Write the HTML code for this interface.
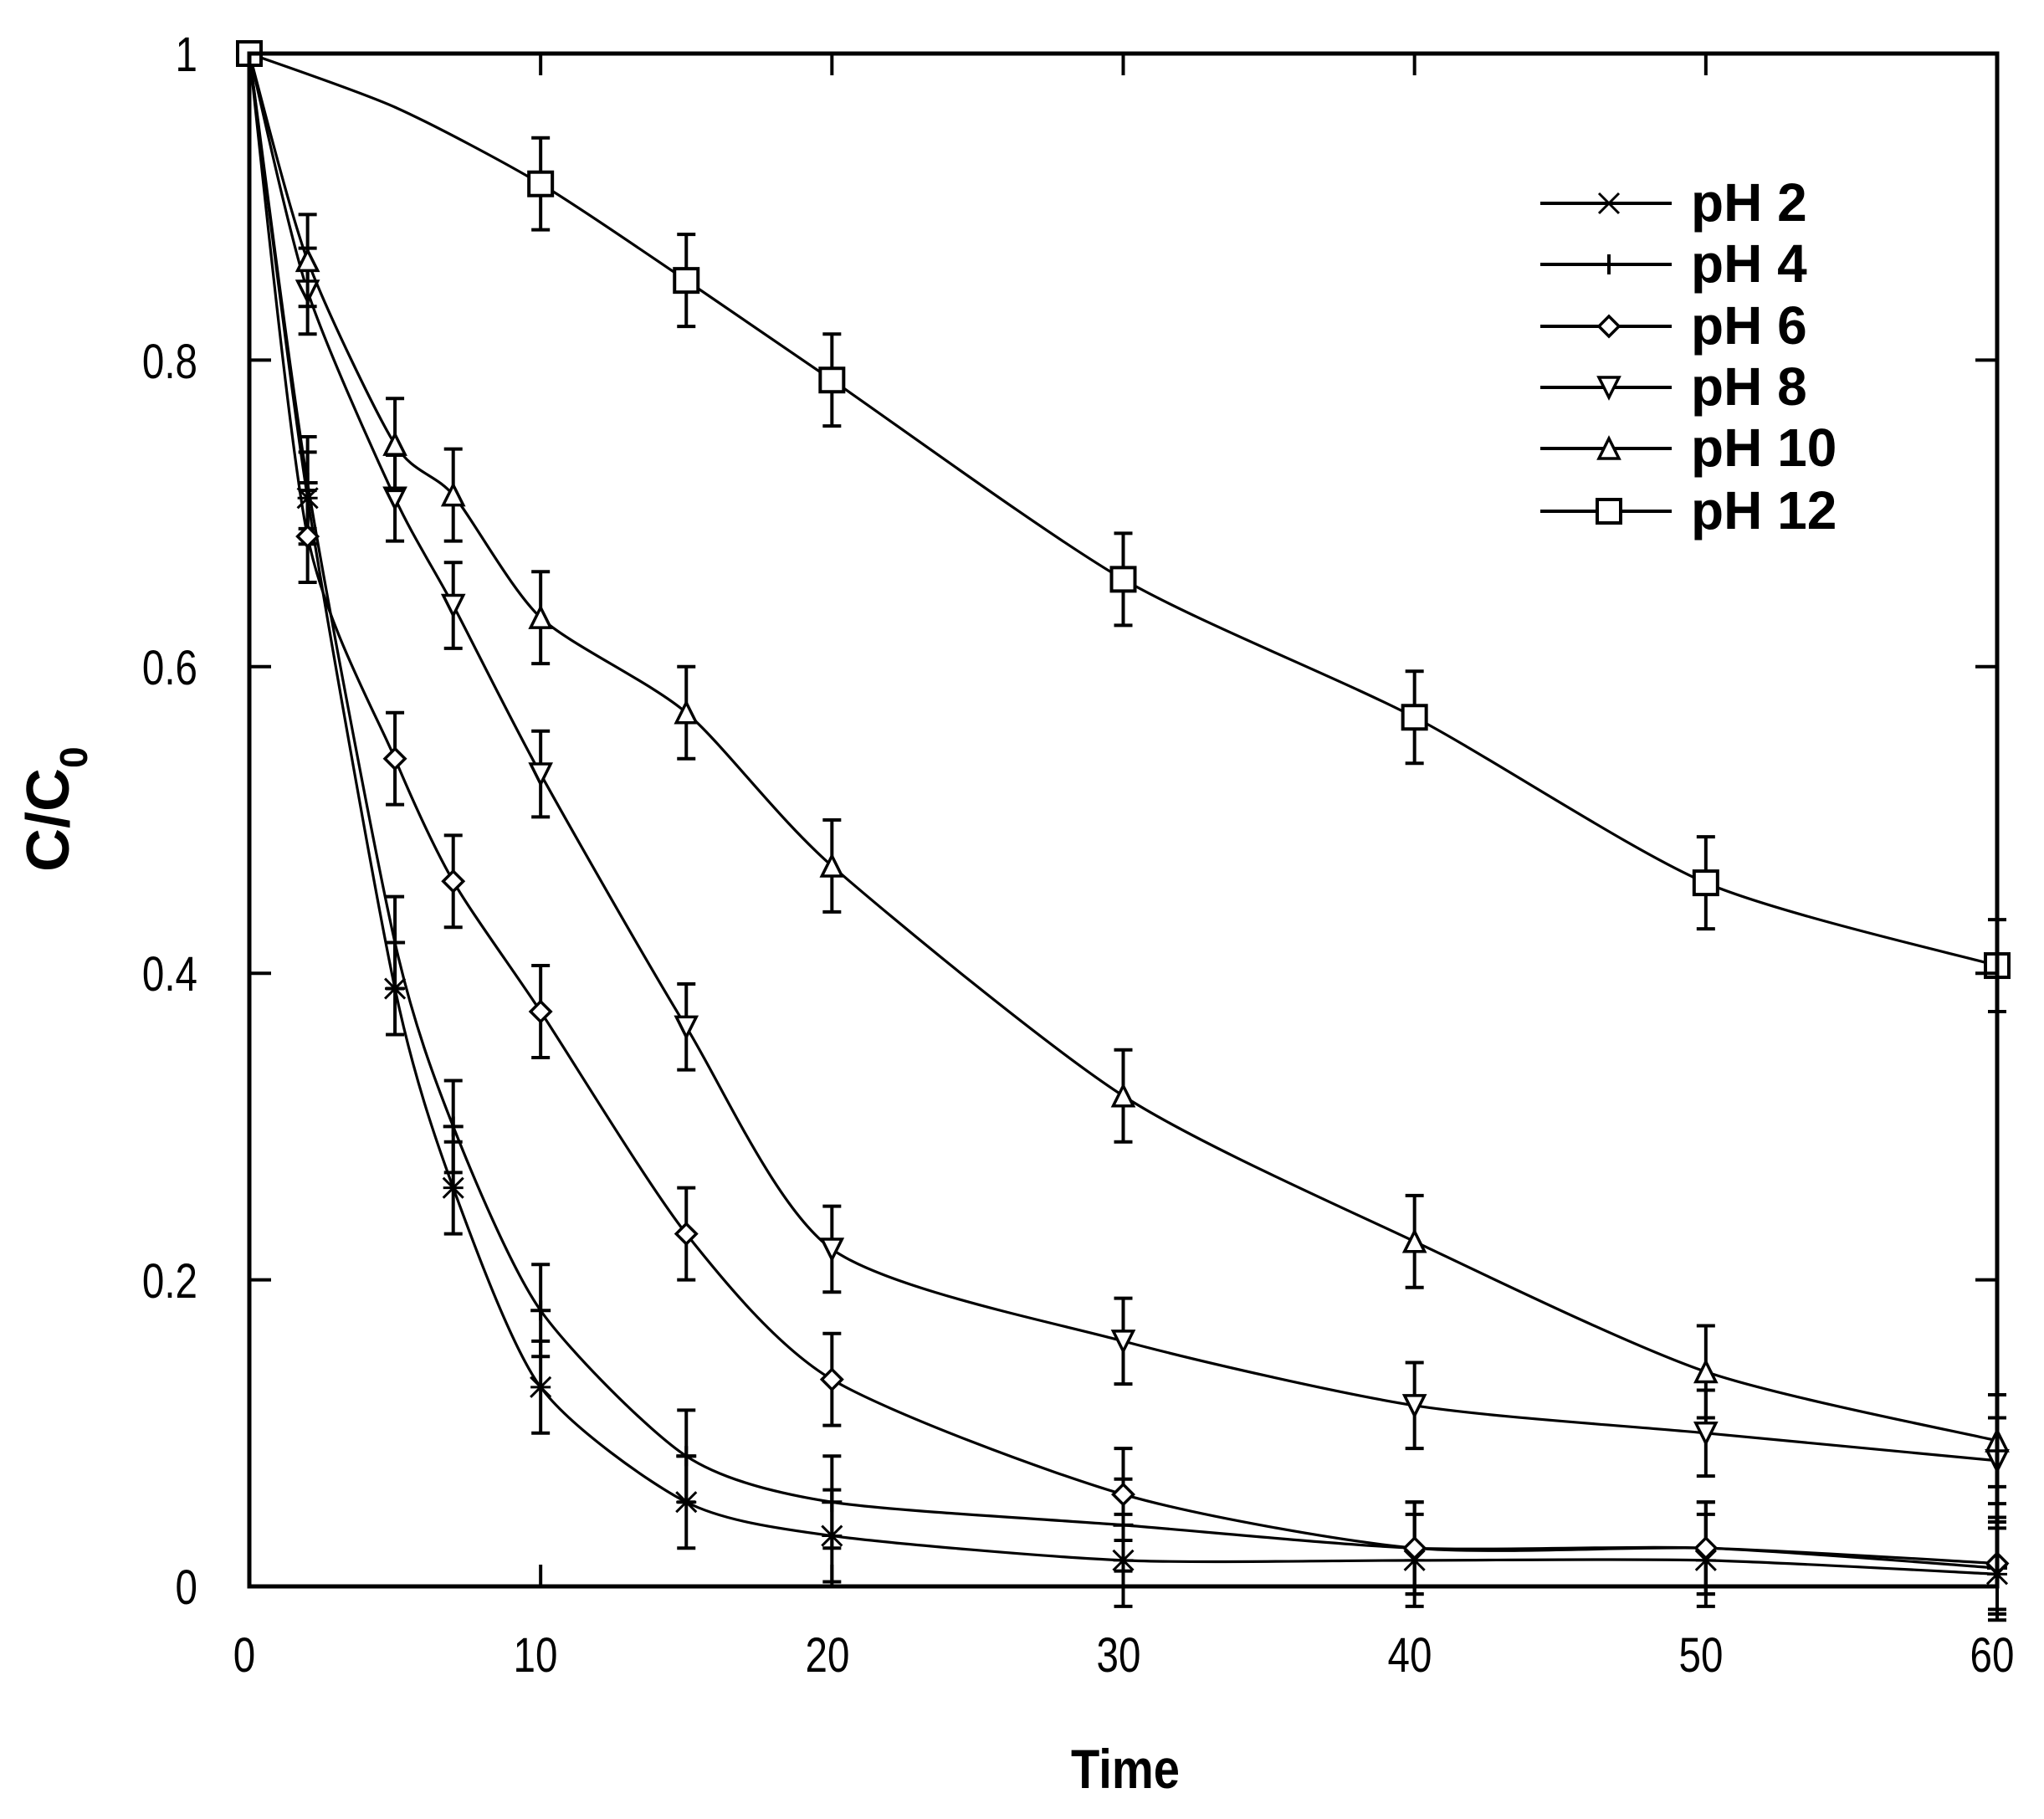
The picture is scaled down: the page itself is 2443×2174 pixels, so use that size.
<!DOCTYPE html>
<html><head><meta charset="utf-8"><style>
html,body{margin:0;padding:0;background:#fff}
svg{display:block}
text{font-family:"Liberation Sans",Arial,sans-serif;fill:#000}
</style></head><body>
<svg id="s" width="2443" height="2174" viewBox="0 0 2443 2174" xmlns="http://www.w3.org/2000/svg">
<rect width="2443" height="2174" fill="#fff"/>
<g id="plot"></g>
<rect x="298" y="64" width="2089" height="1832" fill="none" stroke="#000" stroke-width="5"/>
<g id="ticks" stroke="#000" stroke-width="4"></g>
<g font-size="58" text-anchor="end">
<text x="236" y="1917" transform="translate(236 0) scale(0.82 1) translate(-236 0)">0</text>
<text x="236" y="1551" transform="translate(236 0) scale(0.82 1) translate(-236 0)">0.2</text>
<text x="236" y="1184" transform="translate(236 0) scale(0.82 1) translate(-236 0)">0.4</text>
<text x="236" y="818" transform="translate(236 0) scale(0.82 1) translate(-236 0)">0.6</text>
<text x="236" y="452" transform="translate(236 0) scale(0.82 1) translate(-236 0)">0.8</text>
<text x="236" y="85" transform="translate(236 0) scale(0.82 1) translate(-236 0)">1</text>
</g>
<g font-size="58" text-anchor="middle">
<text x="0" y="1998" transform="translate(292 0) scale(0.82 1)">0</text>
<text x="0" y="1998" transform="translate(640 0) scale(0.82 1)">10</text>
<text x="0" y="1998" transform="translate(989 0) scale(0.82 1)">20</text>
<text x="0" y="1998" transform="translate(1337 0) scale(0.82 1)">30</text>
<text x="0" y="1998" transform="translate(1685 0) scale(0.82 1)">40</text>
<text x="0" y="1998" transform="translate(2033 0) scale(0.82 1)">50</text>
<text x="0" y="1998" transform="translate(2381 0) scale(0.82 1)">60</text>
</g>
<text x="0" y="0" font-size="66" font-weight="bold" text-anchor="middle" transform="translate(1345 2137) scale(0.85 1)">Time</text>
<text transform="translate(82 1042) rotate(-90)" font-size="72" font-weight="bold">C/C<tspan font-size="46" dy="22">0</tspan></text>
<g id="legend"></g>
<g font-size="64" font-weight="bold">
<text x="2021" y="264">pH 2</text>
<text x="2021" y="337">pH 4</text>
<text x="2021" y="411">pH 6</text>
<text x="2021" y="484">pH 8</text>
<text x="2021" y="557">pH 10</text>
<text x="2021" y="632">pH 12</text>
</g>
</svg>
<script>
(function(){
var NS="http://www.w3.org/2000/svg";
function X(t){return 298+t*2089/60}
function Y(v){return 1896-v*1832}
function el(p,n,a){var e=document.createElementNS(NS,n);for(var k in a)e.setAttribute(k,a[k]);p.appendChild(e);return e}
var tk=document.getElementById('ticks');
for(var i=1;i<6;i++){var x=X(i*10);el(tk,'line',{x1:x,y1:1896,x2:x,y2:1870});el(tk,'line',{x1:x,y1:64,x2:x,y2:90});}
for(var i=1;i<5;i++){var y=Y(i*0.2);el(tk,'line',{x1:298,y1:y,x2:324,y2:y});el(tk,'line',{x1:2387,y1:y,x2:2361,y2:y});}
var T=[0,2,5,7,10,15,20,30,40,50,60];
var S=[
 {m:'x',t:T,v:[1,0.71,0.39,0.26,0.13,0.055,0.033,0.017,0.017,0.017,0.008],e:0.03},
 {m:'+',t:T,v:[1,0.72,0.42,0.30,0.18,0.085,0.055,0.04,0.025,0.025,0.012],e:0.03},
 {m:'d',t:T,v:[1,0.685,0.54,0.46,0.375,0.23,0.135,0.06,0.025,0.025,0.015],e:0.03},
 {m:'v',t:T,v:[1,0.845,0.71,0.64,0.53,0.365,0.22,0.16,0.118,0.1,0.082],e:0.028},
 {m:'^',t:T,v:[1,0.865,0.745,0.712,0.632,0.57,0.47,0.32,0.225,0.14,0.095],e:0.03},
 {m:'s',t:[0,5,10,15,20,30,40,50,60],v:[1,0.965,0.915,0.852,0.787,0.657,0.567,0.459,0.405],e:0.03,skip:[1]}
];
var g=document.getElementById('plot');
function marker(p,m,x,y,s){
 var a={fill:'#fff',stroke:'#000','stroke-width':3.5};
 if(m=='s')el(p,'rect',{x:x-s,y:y-s,width:2*s,height:2*s,fill:'#fff',stroke:'#000','stroke-width':4});
 else if(m=='d')el(p,'polygon',Object.assign({points:(x)+','+(y-s)+' '+(x+s)+','+y+' '+x+','+(y+s)+' '+(x-s)+','+y},a));
 else if(m=='v')el(p,'polygon',Object.assign({points:(x-s)+','+(y-s)+' '+(x+s)+','+(y-s)+' '+x+','+(y+s)},a));
 else if(m=='^')el(p,'polygon',Object.assign({points:(x-s)+','+(y+s)+' '+(x+s)+','+(y+s)+' '+x+','+(y-s)},a));
 else if(m=='+'){el(p,'line',{x1:x-s,y1:y,x2:x+s,y2:y,stroke:'#000','stroke-width':4});el(p,'line',{x1:x,y1:y-s,x2:x,y2:y+s,stroke:'#000','stroke-width':4});}
 else if(m=='x'){el(p,'line',{x1:x-s,y1:y-s,x2:x+s,y2:y+s,stroke:'#000','stroke-width':3});el(p,'line',{x1:x-s,y1:y+s,x2:x+s,y2:y-s,stroke:'#000','stroke-width':3});el(p,'line',{x1:x-s,y1:y,x2:x+s,y2:y,stroke:'#000','stroke-width':3});}
}
S.forEach(function(s){
 var P=s.t.map(function(t,i){return [X(t),Y(s.v[i])]});
 var d='M'+P[0][0]+','+P[0][1];
 var k=8;
 for(var i=0;i<P.length-1;i++){
  var p0=P[i-1]||P[i],p1=P[i],p2=P[i+1],p3=P[i+2]||P[i+1];
  var c1=[p1[0]+(p2[0]-p0[0])/k,p1[1]+(p2[1]-p0[1])/k];
  var c2=[p2[0]-(p3[0]-p1[0])/k,p2[1]-(p3[1]-p1[1])/k];
  d+=' C'+c1[0]+','+c1[1]+' '+c2[0]+','+c2[1]+' '+p2[0]+','+p2[1];
 }
 el(g,'path',{d:d,fill:'none',stroke:'#000','stroke-width':3.2});
 P.forEach(function(p,i){
  if(s.skip&&s.skip.indexOf(i)>=0)return;
  if(i>0){var e=s.e*1832;
   el(g,'line',{x1:p[0],y1:p[1]-e,x2:p[0],y2:p[1]+e,stroke:'#000','stroke-width':4});
   el(g,'line',{x1:p[0]-11,y1:p[1]-e,x2:p[0]+11,y2:p[1]-e,stroke:'#000','stroke-width':4});
   el(g,'line',{x1:p[0]-11,y1:p[1]+e,x2:p[0]+11,y2:p[1]+e,stroke:'#000','stroke-width':4});}
  marker(g,s.m,p[0],p[1],s.m=='s'?14:12);
 });
});
var lg=document.getElementById('legend');
var ly=[243,316,390,463,536,611],lm=['x','+','d','v','^','s'];
ly.forEach(function(y,i){el(lg,'line',{x1:1841,y1:y,x2:1998,y2:y,stroke:'#000','stroke-width':4});marker(lg,lm[i],1923,y,lm[i]=='s'?14:12);});
})();
</script>
</body></html>
